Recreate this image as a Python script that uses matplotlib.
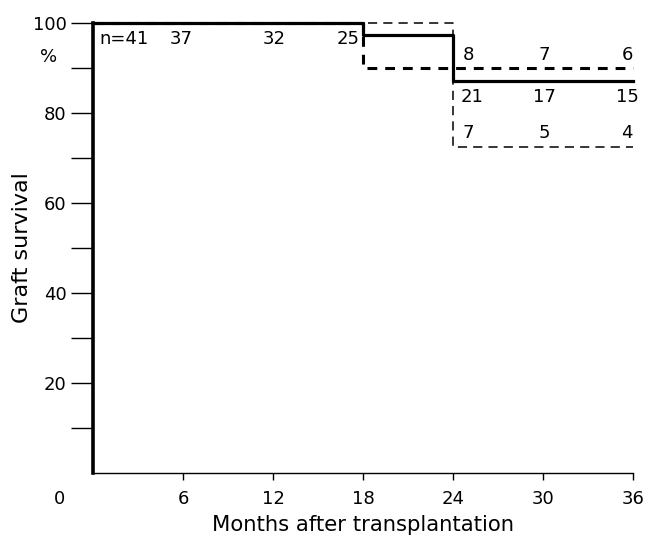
import matplotlib.pyplot as plt
from matplotlib.ticker import FixedLocator

# survival curves (months, % surviving), step after each time
all_t = [0, 18, 24, 36]
all_s = [100, 97.3, 87.1, 87.1]
grp_a_t = [0, 18, 36]
grp_a_s = [100, 90.0, 90.0]
grp_b_t = [0, 24, 36]
grp_b_s = [100, 72.4, 72.4]

# numbers at risk
risk_all_x = [5.9, 12.1]
risk_all_n = ["37", "32"]
risk_late_x = [25.3, 30.1, 35.6]
risk_late_n = ["21", "17", "15"]
risk_grp_x = [25.0, 30.1, 35.6]
risk_a_n = ["8", "7", "6"]
risk_b_n = ["7", "5", "4"]

xticks = [6, 12, 18, 24, 30, 36]
yticks = [20, 40, 60, 80, 100]
yminor = [10, 30, 50, 70, 90]

plt.rcParams['font.family'] = ['DejaVu Sans']
fs = 13

fig = plt.figure(figsize=(6.5, 5.38), dpi=100)
ax = fig.add_axes([0.143, 0.121, 0.831, 0.836])

ax.step(all_t, all_s, where='post', color='black', lw=2.3, clip_on=False, zorder=3)
ax.step(grp_a_t, grp_a_s, where='post', color='black', lw=2.2, ls=(0, (3.2, 2.6)),
        clip_on=False, zorder=2)
ax.step(grp_b_t, grp_b_s, where='post', color='black', lw=1.1, ls=(0, (6, 4)),
        clip_on=False, zorder=2)

ax.set_xlim(0, 36)
ax.set_ylim(0, 100)
for s in ['top', 'right']:
    ax.spines[s].set_visible(False)
ax.spines['left'].set_linewidth(2.6)
ax.spines['bottom'].set_linewidth(1.0)

ax.xaxis.set_major_locator(FixedLocator(xticks))
ax.yaxis.set_major_locator(FixedLocator(yticks))
ax.yaxis.set_minor_locator(FixedLocator(yminor))
ax.tick_params(axis='x', direction='out', length=5, width=1.0, pad=7, labelsize=fs)
ax.tick_params(axis='y', which='both', direction='out', length=16, width=1.0, pad=3,
               labelsize=fs)

ax.text(-0.062, -0.058, "0", transform=ax.transAxes, ha='center', va='center',
        fontsize=fs)
ax.text(-0.083, 0.925, "%", transform=ax.transAxes, ha='center', va='center',
        fontsize=fs)

ax.set_xlabel("Months after transplantation", fontsize=15.2, labelpad=5)
ax.text(-0.131, 0.5, "Graft survival", transform=ax.transAxes, rotation=90,
        ha='center', va='center', fontsize=16)

# numbers at risk
ax.text(0.45, 96.5, "n=41", ha='left', va='center', fontsize=fs)
for x, n in zip(risk_all_x, risk_all_n):
    ax.text(x, 96.5, n, ha='center', va='center', fontsize=fs)
ax.text(17.75, 96.5, "25", ha='right', va='center', fontsize=fs)
for x, n in zip(risk_late_x, risk_late_n):
    ax.text(x, 83.5, n, ha='center', va='center', fontsize=fs)
for x, n in zip(risk_grp_x, risk_a_n):
    ax.text(x, 93.0, n, ha='center', va='center', fontsize=fs)
for x, n in zip(risk_grp_x, risk_b_n):
    ax.text(x, 75.5, n, ha='center', va='center', fontsize=fs)

fig.savefig("out.png", dpi=100)
